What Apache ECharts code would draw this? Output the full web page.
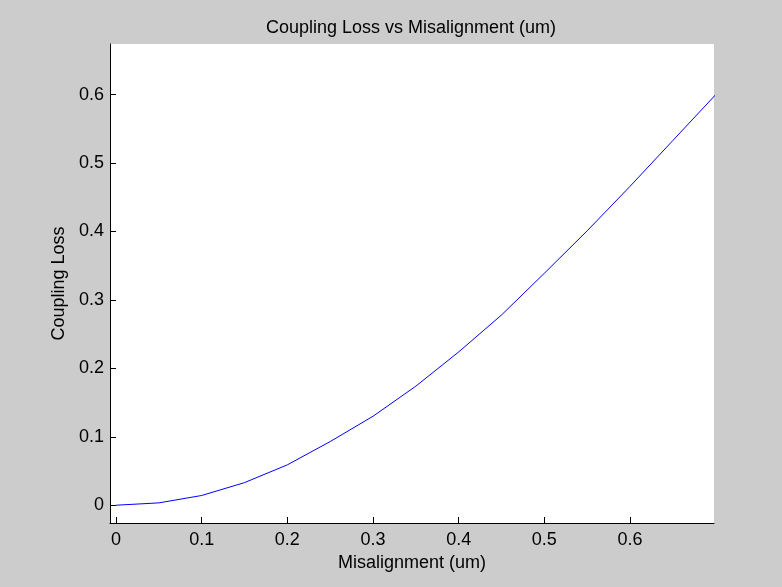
<!DOCTYPE html>
<html>
<head>
<meta charset="utf-8">
<script src="https://cdn.jsdelivr.net/npm/echarts@6/dist/echarts.min.js"></script>
<style>
  html, body { margin: 0; padding: 0; background: #cccccc; }
  #chart { width: 782px; height: 587px; }
</style>
</head>
<body>
<div id="chart"></div>
<script>
// misalignment in um, loss
const misalign = [0, 0.05, 0.1, 0.15, 0.2, 0.25, 0.3, 0.35, 0.4, 0.45, 0.5, 0.55, 0.6, 0.65, 0.7];
const loss = [0, 0.0034, 0.0142, 0.033, 0.059, 0.093, 0.13, 0.174, 0.224, 0.278, 0.339, 0.401, 0.466, 0.533, 0.6];
const xTicks = [0, 0.1, 0.2, 0.3, 0.4, 0.5, 0.6];
const yTicks = [0, 0.1, 0.2, 0.3, 0.4, 0.5, 0.6];

const font = 'Liberation Sans, Arial, Helvetica, sans-serif';
const chart = echarts.init(document.getElementById('chart'));

const fmt = v => (v === 0 ? '0' : String(+v.toFixed(1)));

chart.setOption({
    backgroundColor: '#cccccc',
    animation: false,
    title: {
        text: 'Coupling Loss vs Misalignment (um)',
        left: 406,
        top: 14,
        textAlign: 'center',
        textStyle: {fontFamily: font, fontSize: 18, fontWeight: 'normal', color: '#000'}
    },
    grid: {
        left: 110, right: 68, top: 44, bottom: 64,
        show: true, backgroundColor: '#ffffff', borderWidth: 0
    },
    xAxis: {
        type: 'value',
        min: -0.007,
        max: 0.698,
        name: 'Misalignment (um)',
        nameLocation: 'middle',
        nameGap: 31,
        nameTextStyle: {fontFamily: font, fontSize: 18, color: '#000'},
        axisLine: {show: true, onZero: false, lineStyle: {color: '#000', width: 1}},
        axisTick: {show: true, inside: true, length: 6, customValues: xTicks, lineStyle: {color: '#000'}},
        axisLabel: {customValues: xTicks, formatter: fmt, margin: 8, fontFamily: font, fontSize: 18, color: '#000'},
        splitLine: {show: false}
    },
    yAxis: {
        type: 'value',
        min: -0.026,
        max: 0.674,
        name: 'Coupling Loss',
        nameLocation: 'middle',
        nameGap: 39,
        nameTextStyle: {fontFamily: font, fontSize: 18, color: '#000'},
        axisLine: {show: true, onZero: false, lineStyle: {color: '#000', width: 1}},
        axisTick: {show: true, inside: true, length: 6, customValues: yTicks, lineStyle: {color: '#000'}},
        axisLabel: {customValues: yTicks, formatter: fmt, margin: 6, fontFamily: font, fontSize: 18, color: '#000'},
        splitLine: {show: false}
    },
    series: [{
        type: 'line',
        data: misalign.map((x, i) => [x, loss[i]]),
        showSymbol: false,
        clip: true,
        lineStyle: {color: '#0000ff', width: 1},
        itemStyle: {color: '#0000ff'}
    }]
});
</script>
</body>
</html>
